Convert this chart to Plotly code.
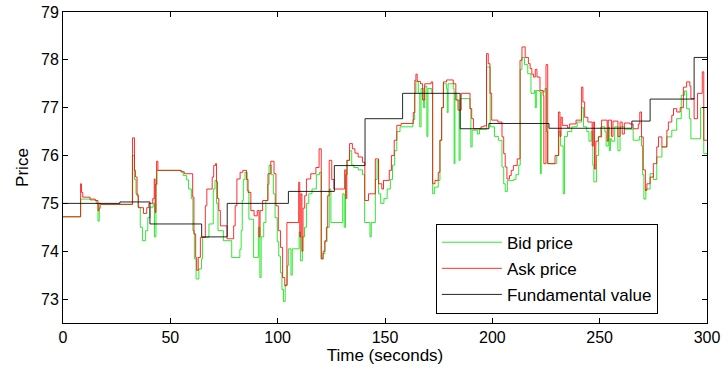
import plotly.graph_objects as go

# ---------------- data (step change points: time [s], price) ----------------
ask_t = [0, 8.2, 8.6, 9.2, 12.6, 15.0, 16.3, 16.8, 17.5, 32.4, 33.3, 33.8, 34.5, 35.1, 37.5, 39.0, 40.0,
         41.8, 42.5, 42.9, 43.3, 43.6, 44.2, 55.0, 56.5, 60.4, 61.0, 61.8, 62.3, 63.0, 64.0, 66.3, 67.0,
         69.5, 70.2, 71.0, 71.5, 72.0, 72.6, 73.3, 76.4, 79.5, 80.2, 81.0, 82.5, 83.8, 85.5, 86.2, 87.5,
         89.0, 90.5, 91.3, 91.8, 93.0, 95.5, 96.8, 98.3, 99.2, 100.3, 101.3, 102.3, 103.3, 104.3, 109.8,
         110.3, 110.8, 111.3, 111.8, 112.6, 113.4, 115.4, 117.8, 119.3, 120.3, 121.2, 122.0, 122.7, 123.3,
         124.0, 125.2, 126.2, 131.2, 131.8, 132.2, 133.5, 134.8, 136.0, 137.5, 139.5, 140.6, 142.3, 145.5,
         147.0, 148.5, 149.3, 152.0, 153.0, 154.3, 155.5, 157.5, 163.2, 163.9, 164.4, 165.0, 166.5, 167.5,
         168.5, 171.5, 172.2, 173.3, 174.8, 175.6, 176.4, 177.2, 178.7, 181.8, 183.0, 184.0, 185.5, 189.6,
         190.4, 191.2, 194.7, 196.0, 197.3, 198.1, 198.9, 199.7, 202.6, 204.5, 205.3, 206.0, 206.8, 208.0,
         208.8, 209.8, 211.6, 212.9, 213.8, 215.3, 216.8, 217.6, 218.4, 219.2, 220.0, 220.8, 222.2, 223.7,
         224.0, 225.0, 225.8, 229.2, 230.8, 231.5, 232.0, 232.6, 235.0, 236.0, 239.0, 241.6, 242.2, 243.0,
         244.5, 246.5, 247.0, 247.6, 248.2, 249.4, 250.9, 253.5, 254.0, 255.5, 256.2, 258.5, 259.5, 260.5,
         261.5, 264.0, 265.6, 268.0, 268.7, 269.5, 270.3, 271.3, 272.0, 273.5, 275.0, 276.6, 277.4, 279.0,
         281.3, 282.0, 283.6, 284.4, 285.9, 287.5, 289.0, 290.5, 292.0, 292.5, 294.0, 295.6, 297.8, 298.5,
         300.0]
ask_v = [74.72, 75.41, 75.23, 75.13, 75.09, 75.06, 74.85, 75.00, 74.98, 76.37, 75.69, 75.55, 75.16, 74.91,
         74.79, 74.91, 75.00, 75.10, 75.51, 74.81, 75.40, 75.88, 75.69, 75.66, 75.62, 75.13, 74.36, 73.87,
         73.60, 73.87, 74.29, 74.95, 75.30, 75.55, 75.79, 75.83, 75.45, 75.10, 74.85, 74.53, 74.26, 74.53,
         74.95, 75.51, 75.65, 75.69, 75.50, 75.23, 74.85, 74.74, 74.85, 74.30, 74.85, 75.06, 75.62, 75.88,
         75.62, 74.95, 74.43, 74.08, 73.45, 73.28, 74.60, 75.44, 74.30, 75.20, 74.00, 74.90, 75.16, 75.51,
         75.62, 75.75, 76.14, 73.84, 74.00, 74.22, 74.50, 75.16, 75.90, 75.50, 75.30, 75.70, 75.10, 75.90,
         76.25, 76.14, 76.05, 75.97, 75.86, 75.06, 75.20, 75.93, 75.41, 75.30, 75.48, 75.69, 76.00, 76.32,
         76.63, 76.67, 76.90, 77.57, 77.70, 77.55, 77.50, 77.16, 77.50, 77.54, 75.41, 75.48, 75.65, 76.32,
         77.00, 77.54, 77.58, 77.50, 77.16, 76.95, 77.30, 76.98, 76.77, 76.56, 76.60, 76.62, 78.13, 77.92,
         77.30, 76.74, 76.70, 76.39, 76.04, 75.76, 75.51, 75.58, 75.69, 75.79, 75.93, 77.99, 78.27, 78.05,
         77.92, 77.82, 77.70, 77.64, 77.80, 77.64, 77.36, 77.25, 75.83, 77.90, 75.83, 76.00, 76.91, 76.40,
         76.80, 76.63, 76.58, 76.66, 76.74, 77.43, 77.12, 76.80, 76.70, 76.20, 76.70, 75.72, 76.30, 76.39,
         76.74, 76.30, 76.74, 76.40, 76.72, 76.40, 76.70, 76.45, 76.68, 76.66, 76.56, 76.66, 76.91, 76.39,
         75.70, 75.27, 75.41, 75.55, 75.83, 76.18, 76.39, 76.18, 76.53, 76.70, 76.84, 76.98, 76.91, 77.00,
         77.43, 77.54, 77.45, 77.19, 76.77, 77.30, 77.75, 76.32, 76.32]

bid_t = [0, 8.2, 12.6, 15.5, 16.3, 16.9, 17.5, 32.3, 33.3, 34.0, 35.0, 36.0, 37.0, 38.5, 39.5, 40.5, 42.0,
         42.6, 43.3, 43.8, 55.0, 56.0, 57.6, 58.5, 59.8, 60.5, 61.2, 62.0, 63.3, 64.5, 65.0, 68.0, 70.0,
         70.8, 71.5, 72.2, 74.7, 78.6, 82.4, 83.0, 83.5, 84.0, 84.8, 85.8, 86.6, 88.8, 91.0, 91.7, 92.3,
         93.5, 94.5, 95.3, 96.0, 97.0, 98.0, 98.8, 99.8, 100.5, 101.3, 102.0, 102.7, 103.5, 104.5, 105.0,
         106.2, 106.8, 110.0, 110.6, 111.5, 112.5, 113.4, 114.5, 116.0, 118.0, 119.5, 120.3, 121.0, 122.0,
         123.0, 124.0, 124.8, 129.5, 130.3, 131.0, 131.6, 132.5, 133.5, 134.5, 135.5, 137.5, 139.5, 140.5,
         143.0, 143.6, 145.5, 146.3, 147.0, 148.0, 149.5, 151.0, 152.5, 153.5, 154.5, 155.5, 157.0, 163.0,
         163.8, 164.4, 165.5, 166.2, 166.8, 168.0, 168.5, 169.5, 170.0, 171.8, 172.2, 173.0, 174.8, 175.6,
         176.4, 177.2, 178.7, 179.0, 179.4, 181.8, 182.2, 182.6, 183.5, 184.5, 185.0, 189.6, 190.0, 190.6,
         193.0, 194.0, 197.3, 199.0, 201.0, 202.8, 204.5, 205.3, 206.0, 207.0, 210.0, 211.0, 212.3, 213.0,
         213.8, 215.0, 216.5, 218.0, 219.6, 220.0, 220.5, 222.0, 222.4, 222.8, 224.5, 225.2, 225.8, 229.5,
         230.0, 231.0, 231.8, 233.0, 233.6, 235.0, 237.0, 239.5, 241.5, 242.5, 244.0, 245.0, 246.0, 246.8,
         247.3, 248.5, 249.5, 250.5, 252.4, 253.0, 254.0, 254.5, 255.0, 255.6, 257.0, 258.5, 259.5, 261.5,
         265.6, 268.5, 269.5, 270.0, 270.6, 271.5, 273.5, 275.0, 276.6, 279.0, 281.3, 283.6, 285.9, 288.0,
         289.5, 290.5, 291.8, 292.5, 297.0, 298.5, 300.0]
bid_v = [74.72, 75.09, 75.07, 75.00, 74.63, 74.90, 74.98, 76.00, 75.50, 75.20, 74.92, 74.50, 74.22, 74.43,
         74.70, 74.92, 75.00, 74.30, 75.40, 75.69, 75.66, 75.58, 75.49, 75.30, 75.10, 74.43, 73.84, 73.42,
         73.63, 73.84, 74.29, 74.57, 75.30, 75.48, 75.00, 74.43, 74.22, 73.87, 74.04, 74.43, 75.06, 75.50,
         75.65, 75.27, 74.67, 73.87, 74.50, 73.45, 74.30, 74.60, 75.06, 75.40, 75.80, 75.60, 75.20, 74.70,
         74.20, 73.90, 73.55, 73.20, 72.95, 73.30, 73.70, 74.05, 73.50, 74.05, 74.40, 73.80, 74.30, 74.50,
         75.00, 75.20, 75.30, 75.60, 75.65, 73.84, 73.95, 74.20, 74.50, 75.30, 74.60, 74.60, 75.20, 74.50,
         75.60, 75.90, 76.10, 75.80, 75.75, 75.70, 75.60, 74.60, 74.30, 74.60, 75.50, 75.90, 75.20, 75.00,
         75.10, 75.30, 75.50, 75.80, 76.10, 76.50, 76.60, 76.75, 77.30, 77.55, 77.30, 76.60, 77.40, 77.00,
         77.45, 76.40, 77.40, 77.30, 75.20, 75.34, 75.48, 76.32, 77.00, 77.50, 77.40, 76.90, 77.50, 77.40,
         75.83, 77.30, 77.16, 75.90, 77.19, 76.98, 76.18, 76.53, 76.45, 76.55, 77.85, 76.60, 76.40, 76.32,
         75.76, 75.41, 75.25, 75.48, 75.50, 75.60, 75.80, 77.80, 78.05, 77.90, 77.71, 77.30, 77.36, 77.00,
         77.36, 77.33, 75.62, 77.33, 77.40, 76.50, 75.83, 75.83, 76.00, 76.50, 76.20, 75.20, 76.40, 76.50,
         76.60, 76.70, 77.00, 76.60, 76.50, 76.30, 76.50, 75.80, 75.45, 76.00, 76.40, 76.60, 76.50, 76.20,
         76.60, 76.10, 76.35, 76.30, 76.60, 76.10, 76.60, 76.55, 76.32, 76.40, 76.20, 75.60, 75.09, 75.30,
         75.62, 75.50, 75.97, 76.18, 76.39, 76.53, 76.77, 77.26, 77.35, 76.98, 76.77, 76.35, 77.00, 76.04,
         76.04]

fund_t = [0, 26.5, 40.5, 64.6, 76.5, 105.0, 126.4, 140.7, 158.2, 185.0, 198.4, 226.4, 265.0, 273.5, 294.0, 300.0]
fund_v = [75.00, 75.03, 74.57, 74.30, 75.00, 75.25, 75.79, 76.77, 77.30, 76.56, 76.67, 76.57, 76.72, 77.18,
          78.05, 78.05]

x_ticks = [0, 50, 100, 150, 200, 250, 300]
y_ticks = [73, 74, 75, 76, 77, 78, 79]

FONT = "Liberation Sans, Arial, Helvetica, sans-serif"

fig = go.Figure()
fig.add_trace(go.Scatter(x=bid_t, y=bid_v, mode="lines", name="Bid price", legendgroup="b",
                         line=dict(color="rgba(0,225,0,0.8)", width=1, shape="hv")))
fig.add_trace(go.Scatter(x=ask_t, y=ask_v, mode="lines", name="Ask price", legendgroup="a",
                         line=dict(color="rgba(255,0,0,0.82)", width=1, shape="hv")))
fig.add_trace(go.Scatter(x=fund_t, y=fund_v, mode="lines", name="Fundamental value", legendgroup="f",
                         line=dict(color="rgba(0,0,0,0.85)", width=1, shape="hv")))

axis_common = dict(showline=True, linecolor="black", linewidth=1, mirror="ticks", ticks="inside",
                   ticklen=5, tickcolor="black", showgrid=False, zeroline=False, automargin=False,
                   tickfont=dict(family=FONT, size=16, color="black"))

fig.update_xaxes(range=[0, 300], tickvals=x_ticks, ticktext=[str(v) for v in x_ticks],
                 title=dict(text="Time (seconds)", font=dict(family=FONT, size=17, color="black"), standoff=2),
                 **axis_common)
fig.update_yaxes(range=[72.5, 79], tickvals=y_ticks, ticktext=[str(v) for v in y_ticks],
                 title=dict(text="Price", font=dict(family=FONT, size=17, color="black"), standoff=8),
                 **axis_common)

fig.update_layout(
    width=728, height=373,
    margin=dict(l=63, r=21, t=12, b=50),
    paper_bgcolor="white", plot_bgcolor="white",
    font=dict(family=FONT, size=16, color="black"),
    showlegend=True,
    legend=dict(x=0.579, y=0.03, xanchor="left", yanchor="bottom",
                bgcolor="white", bordercolor="black", borderwidth=1,
                font=dict(family=FONT, size=17, color="black"),
                tracegroupgap=1, itemwidth=60),
)

fig.write_html("out.html", config={"displayModeBar": False},
               post_script="document.body.style.margin='0px';")
